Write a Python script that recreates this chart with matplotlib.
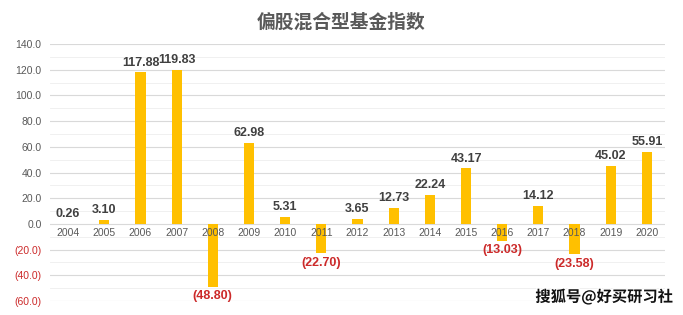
import numpy as np
import matplotlib.pyplot as plt
import matplotlib.patheffects as pe
from matplotlib.ticker import MultipleLocator

plt.rcParams['font.family'] = ['Noto Sans CJK SC', 'DejaVu Sans']

years = ['2004', '2005', '2006', '2007', '2008', '2009', '2010', '2011', '2012',
         '2013', '2014', '2015', '2016', '2017', '2018', '2019', '2020']
returns = [0.26, 3.10, 117.88, 119.83, -48.80, 62.98, 5.31, -22.70, 3.65,
           12.73, 22.24, 43.17, -13.03, 14.12, -23.58, 45.02, 55.91]
yticks = [-60, -40, -20, 0, 20, 40, 60, 80, 100, 120, 140]
red = '#cc2a2a'

fig = plt.figure(figsize=(6.83, 3.15), dpi=100)
ax = fig.add_axes([50/683, 1-301/315, 615/683, 257/315])

x = np.arange(len(years))
ax.bar(x, returns, width=0.28, color='#FFC000', zorder=3)

ax.set_xlim(-0.5, len(years) - 0.5)
ax.set_ylim(-60, 140)
ax.yaxis.set_minor_locator(MultipleLocator(10))
ax.set_yticks(yticks)
ax.grid(axis='y', which='major', color='#d9d9d9', lw=0.8, zorder=0)
ax.grid(axis='y', which='minor', color='#eeeeee', lw=0.6, zorder=0)
ax.tick_params(axis='y', which='both', length=0, pad=6)
ax.set_yticklabels([f'({abs(v):.1f})' if v < 0 else f'{v:.1f}' for v in yticks],
                   fontsize=7.5, family='Liberation Sans')
for lab, v in zip(ax.get_yticklabels(), yticks):
    lab.set_color(red if v < 0 else '#595959')

ax.set_xticks([])
for i, yr in enumerate(years):
    ax.text(i, -3, yr, ha='center', va='top', fontsize=7.5, color='#595959',
            family='Liberation Sans', zorder=4)

for i, v in enumerate(returns):
    if v >= 0:
        ax.text(i, v + 3, f'{v:.2f}', ha='center', va='bottom', fontsize=9,
                fontweight='bold', color='#404040', family='Liberation Sans', zorder=4)
    else:
        ax.text(i, v - 3, f'({abs(v):.2f})', ha='center', va='top', fontsize=9,
                fontweight='bold', color=red, family='Liberation Sans', zorder=4)

for s in ax.spines.values():
    s.set_visible(False)

fig.text(0.5, 1-22/315, '偏股混合型基金指数', ha='center', va='center',
         fontsize=13.5, fontweight='bold', color='#595959')
fig.text(0.985, 1-297/315, '搜狐号@好买研习社', ha='right', va='center',
         fontsize=11, fontweight='bold', color='#111111',
         path_effects=[pe.withStroke(linewidth=2, foreground='white')])

fig.savefig('out.png', dpi=100)
